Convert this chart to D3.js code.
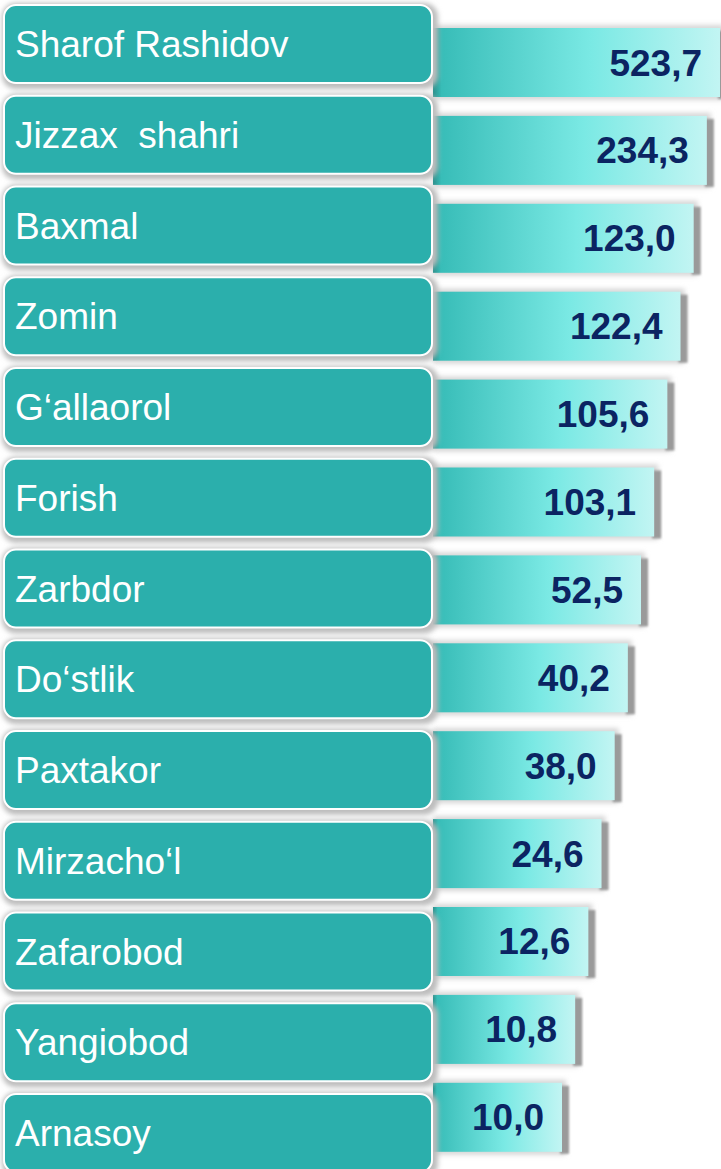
<!DOCTYPE html>
<html>
<head>
<meta charset="utf-8">
<script src="https://cdn.jsdelivr.net/npm/d3@7"></script>
<style>
  html, body { margin: 0; padding: 0; background: #ffffff; }
  svg { display: block; }
</style>
</head>
<body>
<script>
const categories = ["Sharof Rashidov", "Jizzax  shahri", "Baxmal", "Zomin", "G‘allaorol", "Forish",
  "Zarbdor", "Do‘stlik", "Paxtakor", "Mirzacho‘l", "Zafarobod", "Yangiobod", "Arnasoy"];
const values = [523.7, 234.3, 123.0, 122.4, 105.6, 103.1, 52.5, 40.2, 38.0, 24.6, 12.6, 10.8, 10.0];
const valueLabels = ["523,7", "234,3", "123,0", "122,4", "105,6", "103,1", "52,5", "40,2", "38,0", "24,6", "12,6", "10,8", "10,0"];

const W = 721, H = 1169;
const svg = d3.select("body").append("svg").attr("width", W).attr("height", H);

const defs = svg.append("defs");
const grad = defs.append("linearGradient").attr("id", "barGrad").attr("x1", "0%").attr("x2", "100%");
grad.append("stop").attr("offset", "0%").attr("stop-color", "#2a8f8b");
grad.append("stop").attr("offset", "3%").attr("stop-color", "#38bdb8");
grad.append("stop").attr("offset", "55%").attr("stop-color", "#7ae9e4");
grad.append("stop").attr("offset", "100%").attr("stop-color", "#c2f5f3");

const blur = defs.append("filter").attr("id", "blur").attr("x", "-20%").attr("y", "-20%").attr("width", "140%").attr("height", "140%");
blur.append("feGaussianBlur").attr("stdDeviation", 2.5);
const blur2 = defs.append("filter").attr("id", "blur2").attr("x", "-20%").attr("y", "-20%").attr("width", "140%").attr("height", "140%");
blur2.append("feGaussianBlur").attr("stdDeviation", 1.2);

const data = categories.map((c, i) => ({ cat: c, value: values[i], label: valueLabels[i], rank: i }));

// Scales
const yBox = d3.scaleBand().domain(categories).range([5, 1172]).paddingInner(0.1405).paddingOuter(0);
const yBar = d3.scaleBand().domain(categories).range([28, 1151.8]).paddingInner(0.215).paddingOuter(0);
// bar length encodes rank of the value (decorative infographic)
const rankOrder = values.map((v, i) => i).sort((a, b) => values[b] - values[a]);
const rankOf = {};
rankOrder.forEach((idx, r) => rankOf[idx] = r);
const xLen = d3.scaleLinear().domain([categories.length - 1, 0]).range([129, 287]);

const barX0 = 433;
const boxX = 4, boxW = 428;

// Bars (drawn first, behind boxes)
const bars = svg.append("g").selectAll("g").data(data).join("g");

bars.append("rect")
  .attr("x", barX0)
  .attr("y", d => yBar(d.cat) - 3)
  .attr("width", d => xLen(rankOf[d.rank]) + 4)
  .attr("height", yBar.bandwidth() + 6)
  .attr("fill", "#d6d6d6")
  .attr("filter", "url(#blur)");
bars.append("rect")
  .attr("x", d => barX0 + xLen(rankOf[d.rank]) - 2)
  .attr("y", d => yBar(d.cat) + 3)
  .attr("width", 9)
  .attr("height", yBar.bandwidth() - 1)
  .attr("fill", "#9a9a9a")
  .attr("filter", "url(#blur2)");
bars.append("rect")
  .attr("x", barX0)
  .attr("y", d => yBar(d.cat))
  .attr("width", d => xLen(rankOf[d.rank]))
  .attr("height", yBar.bandwidth())
  .attr("fill", "url(#barGrad)");

bars.append("text")
  .attr("x", d => barX0 + xLen(rankOf[d.rank]) - 18)
  .attr("y", d => yBar(d.cat) + yBar.bandwidth() / 2 + 13)
  .attr("text-anchor", "end")
  .attr("font-family", "'Liberation Sans', Arial, sans-serif")
  .attr("font-weight", "bold")
  .attr("font-size", 37)
  .attr("fill", "#0b2462")
  .text(d => d.label);

// Label boxes
const boxes = svg.append("g").selectAll("g").data(data).join("g");
boxes.append("rect")
  .attr("x", boxX - 2)
  .attr("y", d => yBox(d.cat) - 2)
  .attr("width", boxW + 8)
  .attr("height", yBox.bandwidth() + 8)
  .attr("rx", 14)
  .attr("fill", "#bdbdbd")
  .attr("filter", "url(#blur)");
boxes.append("rect")
  .attr("x", boxX)
  .attr("y", d => yBox(d.cat))
  .attr("width", boxW)
  .attr("height", yBox.bandwidth())
  .attr("rx", 12)
  .attr("fill", "#2bafac")
  .attr("stroke", "#ffffff")
  .attr("stroke-width", 2);
boxes.append("text")
  .attr("x", boxX + 11)
  .attr("y", d => yBox(d.cat) + 52)
  .attr("font-family", "'Liberation Sans', Arial, sans-serif")
  .attr("font-size", 37)
  .attr("fill", "#ffffff")
  .style("white-space", "pre")
  .text(d => d.cat);
</script>
</body>
</html>
